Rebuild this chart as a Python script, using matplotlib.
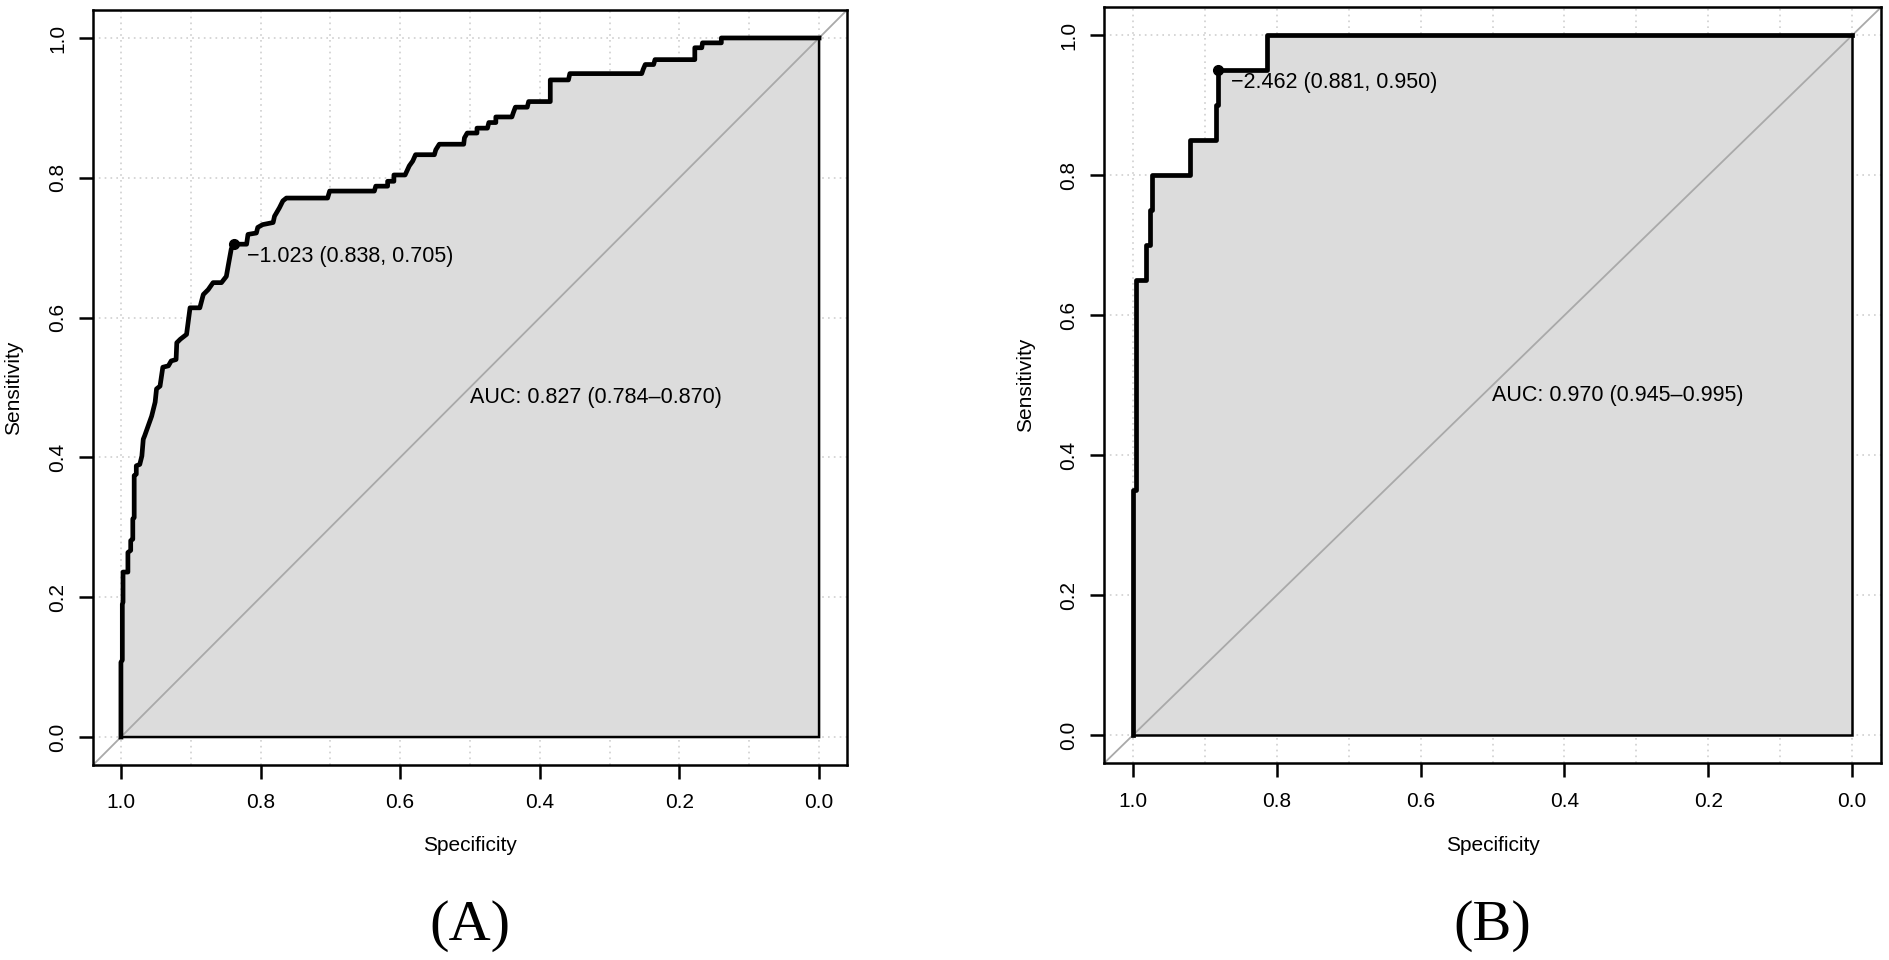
import numpy as np
import matplotlib
matplotlib.use('Agg')
from matplotlib import pyplot as plt

plt.rcParams['font.family'] = ['Liberation Sans', 'DejaVu Sans']

# panel A: ROC vertices (specificity, sensitivity)
spec_a = [1.000, 1.000, 0.998, 0.998, 0.997, 0.997, 0.990, 0.990, 0.986, 0.986,
          0.983, 0.983, 0.981, 0.981, 0.978, 0.978, 0.973, 0.970, 0.968, 0.966,
          0.961, 0.956, 0.951, 0.949, 0.944, 0.940, 0.932, 0.928, 0.921, 0.920,
          0.915, 0.906, 0.901, 0.887, 0.882, 0.875, 0.868, 0.856, 0.849, 0.846,
          0.842, 0.838, 0.820, 0.818, 0.806, 0.804, 0.797, 0.782, 0.780, 0.773,
          0.768, 0.763, 0.704, 0.701, 0.637, 0.635, 0.618, 0.618, 0.609, 0.609,
          0.593, 0.587, 0.582, 0.578, 0.551, 0.549, 0.544, 0.509, 0.508, 0.504,
          0.490, 0.490, 0.475, 0.473, 0.463, 0.463, 0.440, 0.438, 0.435, 0.418,
          0.416, 0.385, 0.385, 0.385, 0.359, 0.357, 0.254, 0.252, 0.249, 0.237,
          0.235, 0.178, 0.178, 0.168, 0.167, 0.140, 0.140, 0.000]
sens_a = [0.000, 0.107, 0.110, 0.190, 0.193, 0.236, 0.236, 0.264, 0.267, 0.281,
          0.283, 0.312, 0.314, 0.374, 0.376, 0.388, 0.390, 0.402, 0.426, 0.431,
          0.445, 0.459, 0.479, 0.498, 0.502, 0.529, 0.531, 0.538, 0.540, 0.564,
          0.569, 0.576, 0.614, 0.614, 0.633, 0.640, 0.650, 0.650, 0.659, 0.676,
          0.698, 0.705, 0.705, 0.719, 0.721, 0.729, 0.733, 0.736, 0.745, 0.757,
          0.767, 0.771, 0.771, 0.781, 0.781, 0.788, 0.788, 0.795, 0.795, 0.804,
          0.804, 0.817, 0.824, 0.833, 0.833, 0.840, 0.848, 0.848, 0.857, 0.864,
          0.864, 0.871, 0.871, 0.879, 0.879, 0.887, 0.887, 0.893, 0.901, 0.901,
          0.909, 0.909, 0.917, 0.940, 0.940, 0.949, 0.949, 0.955, 0.962, 0.962,
          0.969, 0.969, 0.986, 0.986, 0.993, 0.993, 1.000, 1.000]

# panel B
spec_b = [1.000, 1.000, 0.995, 0.995, 0.981, 0.981, 0.976, 0.976, 0.973, 0.973,
          0.921, 0.921, 0.884, 0.884, 0.881, 0.881, 0.814, 0.814, 0.000]
sens_b = [0.00, 0.35, 0.35, 0.65, 0.65, 0.70, 0.70, 0.75, 0.75, 0.80,
          0.80, 0.85, 0.85, 0.90, 0.90, 0.95, 0.95, 1.00, 1.00]

best_a = (0.838, 0.705)
best_b = (0.881, 0.950)
thr_a = '\u22121.023 (0.838, 0.705)'
thr_b = '\u22122.462 (0.881, 0.950)'
auc_a = 'AUC: 0.827 (0.784\u20130.870)'
auc_b = 'AUC: 0.970 (0.945\u20130.995)'

x_ticks = [1.0, 0.8, 0.6, 0.4, 0.2, 0.0]
y_ticks = [0.0, 0.2, 0.4, 0.6, 0.8, 1.0]


def draw_roc(ax, spec, sens, best, thr_text, auc_text):
	ax.set_xlim(1.04, -0.04)
	ax.set_ylim(-0.04, 1.04)

	for v in np.arange(0, 1.01, 0.1):
		ax.axvline(v, color='#CFCFCF', ls=(0, (1, 2.5)), lw=1.2, zorder=0)
	for h in np.arange(0, 1.01, 0.2):
		ax.axhline(h, color='#CFCFCF', ls=(0, (1, 2.5)), lw=1.2, zorder=0)

	ax.fill(list(spec) + [0, 1], list(sens) + [0, 0], facecolor='#DCDCDC',
	        edgecolor='black', lw=1.8, zorder=1)
	ax.axline((1, 0), (0, 1), color='#A9A9A9', lw=1.3, zorder=2)
	ax.plot(spec, sens, color='black', lw=3.4, zorder=3)
	ax.plot(best[0], best[1], 'o', color='black', ms=7, zorder=4)

	ax.annotate(thr_text, best, xytext=(9, -9), textcoords='offset points',
	            ha='left', va='center', fontsize=15.5, zorder=5)
	ax.text(0.5, 0.5, auc_text, ha='left', va='top', fontsize=15.5, zorder=5)

	ax.set_xticks(x_ticks)
	ax.set_xticklabels([f'{t:.1f}' for t in x_ticks])
	ax.set_yticks(y_ticks)
	ax.set_yticklabels([f'{t:.1f}' for t in y_ticks])
	ax.tick_params(direction='out', length=10, width=1.8, labelsize=15)
	ax.tick_params(axis='x', pad=10.5)
	ax.tick_params(axis='y', pad=8.5, labelrotation=90)
	for lbl in ax.get_yticklabels():
		lbl.set_va('center')
	for s in ax.spines.values():
		s.set_linewidth(1.8)


fig = plt.figure(figsize=(18.9, 9.6), dpi=100)

ax_a = fig.add_axes([93 / 1890, 195 / 960, 754 / 1890, 755 / 960])
draw_roc(ax_a, spec_a, sens_a, best_a, thr_a, auc_a)
ax_a.text(0.5, -0.107, 'Specificity', transform=ax_a.transAxes, ha='center', va='center', fontsize=15)
ax_a.text(-79 / 754, 0.5, 'Sensitivity', transform=ax_a.transAxes, ha='center', va='center',
          rotation=90, fontsize=15)

ax_b = fig.add_axes([1104 / 1890, 196.7 / 960, 777 / 1890, 756 / 960])
draw_roc(ax_b, spec_b, sens_b, best_b, thr_b, auc_b)
ax_b.text(0.5, -0.109, 'Specificity', transform=ax_b.transAxes, ha='center', va='center', fontsize=15)
ax_b.text(-78 / 777, 0.5, 'Sensitivity', transform=ax_b.transAxes, ha='center', va='center',
          rotation=90, fontsize=15)

fig.text(470 / 1890, 0.0354, '(A)', family='Liberation Serif', fontsize=42, ha='center', va='center')
fig.text(1492 / 1890, 0.0354, '(B)', family='Liberation Serif', fontsize=42, ha='center', va='center')

plt.savefig('out.png', dpi=100)
